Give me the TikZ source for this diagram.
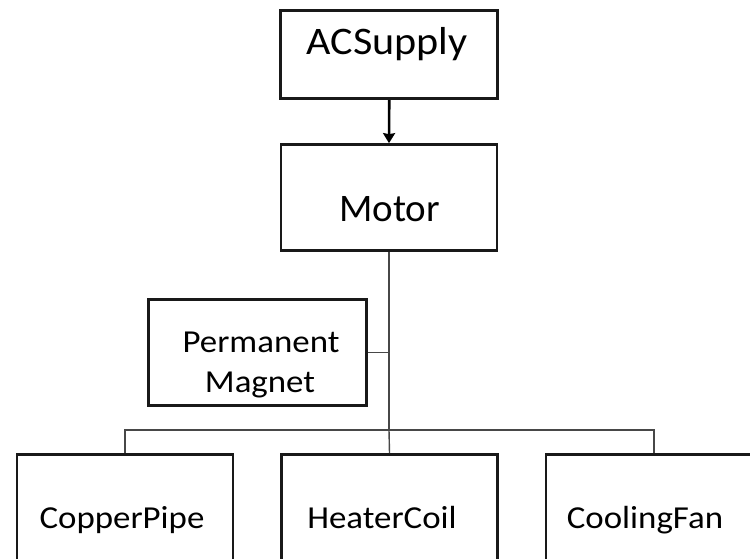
\documentclass[tikz,border=0pt]{standalone}
\usepackage{fontspec}
\setmainfont{Carlito}
\usetikzlibrary{arrows.meta}
\newcommand{\wideA}[1]{\scalebox{1.08}[1]{#1}}
\newcommand{\wideB}[1]{\scalebox{1.09}[1]{#1}}
\begin{document}
\begin{tikzpicture}[x=1pt,y=-1pt,
 box/.style={draw=black!90, line width=2.7pt, minimum width=216pt, minimum height=106pt, inner sep=0pt},
 lbl/.style={anchor=base, inner sep=0pt, text=black},
 big/.style={font=\fontsize{39}{46}\selectfont},
 mid/.style={font=\fontsize{32}{40}\selectfont},
 conn/.style={draw=black!72, line width=1.4pt}
]
\useasboundingbox (0,0) rectangle (750,559);
\clip (0,0) rectangle (750,559);
% boxes
\node[box, minimum height=88.5pt, minimum width=217pt] (ac) at (389.25,54.5) {};
\node[box] (motor) at (389,197.5) {};
\node[box, minimum width=218.5pt] (pm) at (257.5,352.5) {};
\node[box] (cp) at (125,507.5) {};
\node[box] (hc) at (389.5,507.5) {};
\node[box] (cf) at (654,507.5) {};
% labels
\node[lbl, big] (acl) at (387,55) {\wideA{ACSupply}};
\node[lbl, big] (motorl) at (389.5,221.7) {Motor};
\node[lbl, mid] (pml1) at (261,352) {\wideB{Permanent}};
\node[lbl, mid] (pml2) at (260,392) {\wideB{Magnet}};
\node[lbl, mid] (cpl) at (122,528) {\wideB{CopperPipe}};
\node[lbl, mid] (hcl) at (382,528) {\wideB{HeaterCoil}};
\node[lbl, mid] (cfl) at (645,528) {\wideB{CoolingFan}};
% connectors
\coordinate (bus) at (389,430);
\draw[line width=2.6pt, -{Stealth[length=10pt,width=12pt,inset=1pt]}] (ac.south) -- (motor.north);
\draw[conn] (motor.south) -- (bus);
\draw[conn] (pm.east) -- (pm.east -| bus);
\draw[conn] (cp.north) |- (bus) -| (cf.north);
\draw[conn] (hc.north) -- (bus);
\end{tikzpicture}
\end{document}
